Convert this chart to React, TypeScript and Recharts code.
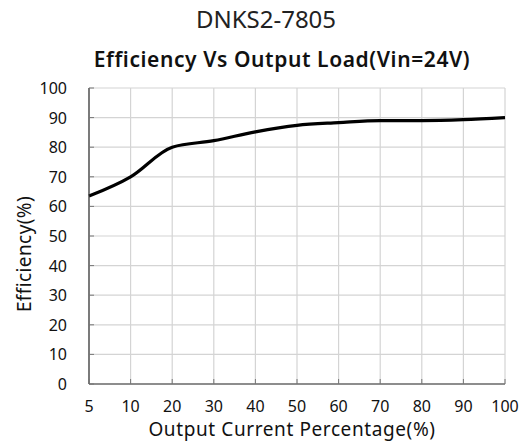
import React from 'react'
import { LineChart, Line, XAxis, YAxis, CartesianGrid, Label } from 'recharts'

const loads = ['5', '10', '20', '30', '40', '50', '60', '70', '80', '90', '100']
const efficiency = [63.5, 70, 80, 82.2, 85.2, 87.4, 88.3, 89, 89, 89.3, 90]
const yTicks = [0, 10, 20, 30, 40, 50, 60, 70, 80, 90, 100]

const datos = loads.map((load, i) => ({ load, eff: efficiency[i] }))

const font = '"Noto Sans", sans-serif'

function YTick(props: any) {
  const { x, y, payload } = props
  return (
    <g>
      <line x1={89} x2={94} y1={y} y2={y} stroke="#777" />
      <text x={x} y={y} dy={6} textAnchor="end" fontSize={16} fill="#111" fontFamily={font}>
        {payload.value}
      </text>
    </g>
  )
}

function XTick(props: any) {
  const { x, y, payload } = props
  return (
    <g>
      <line x1={x} x2={x} y1={384} y2={379} stroke="#777" />
      <text x={x} y={y} dy={20} textAnchor="middle" fontSize={16} fill="#111" fontFamily={font}>
        {payload.value}
      </text>
    </g>
  )
}

function YTitle() {
  return (
    <text
      x={0}
      y={0}
      transform="translate(31 254) rotate(-90)"
      textAnchor="middle"
      fontSize={19}
      fill="#111"
      fontFamily={font}
      letterSpacing={0.4}
    >
      Efficiency(%)
    </text>
  )
}

export default function App() {
  return (
    <div style={{ position: 'absolute', left: 0, top: 0, width: 528, height: 448, background: '#fff' }}>
      <div
        style={{
          position: 'absolute', left: 0, width: 528, top: 2, textAlign: 'center',
          fontFamily: font, fontSize: 24, color: '#222', paddingLeft: 2,
        }}
      >
        DNKS2-7805
      </div>
      <div
        style={{
          position: 'absolute', left: 0, width: 528, top: 45, textAlign: 'center',
          fontFamily: font, fontSize: 21, fontWeight: 600, color: '#111', paddingLeft: 18,
          letterSpacing: 0.6,
        }}
      >
        Efficiency Vs Output Load(Vin=24V)
      </div>
      <div style={{ position: 'absolute', left: 0, top: 0 }}>
        <LineChart width={528} height={448} data={datos} margin={{ top: 88, right: 23, bottom: 0, left: 0 }}>
          <CartesianGrid stroke="#d4d4d4" strokeWidth={1.2} />
          <XAxis
            dataKey="load"
            height={64}
            tick={<XTick />}
            tickLine={false}
            axisLine={{ stroke: '#333', strokeWidth: 1.2 }}
            interval={0}
          >
            <Label
              value="Output Current Percentage(%)"
              position="insideBottom"
              offset={12}
              dx={-5}
              style={{ fontFamily: font, fontSize: 19, fill: '#111', letterSpacing: 0.6 }}
            />
          </XAxis>
          <YAxis
            width={89}
            domain={[0, 100]}
            ticks={yTicks}
            interval={0}
            tick={<YTick />}
            tickLine={false}
            tickSize={0}
            tickMargin={22}
            axisLine={{ stroke: '#333', strokeWidth: 1.2 }}
          >
            <Label content={<YTitle />} />
          </YAxis>
          <Line
            type="monotone"
            dataKey="eff"
            stroke="#000"
            strokeWidth={3.2}
            dot={false}
            isAnimationActive={false}
          />
        </LineChart>
      </div>
    </div>
  )
}
